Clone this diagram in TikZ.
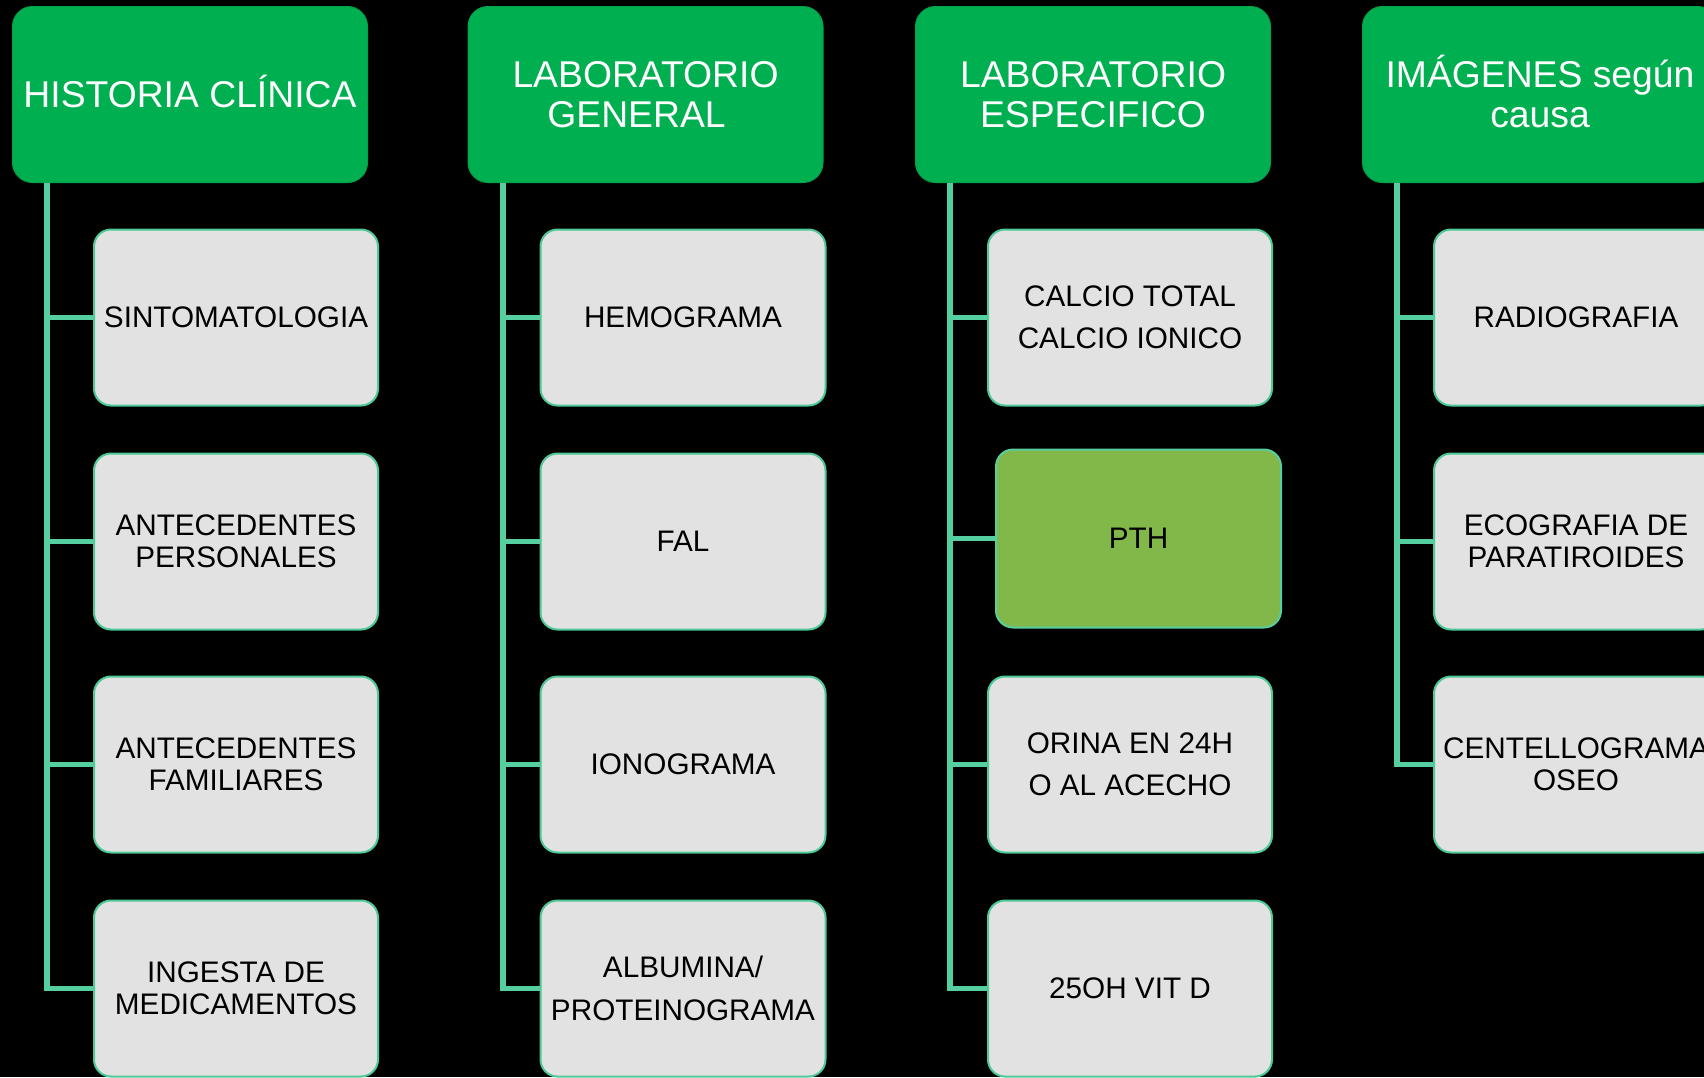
\documentclass[tikz,border=0pt]{standalone}
\usepackage{fontspec}
\setmainfont{Liberation Sans}
\usetikzlibrary{calc}

\definecolor{hdrgreen}{HTML}{00B050}
\definecolor{boxgray}{HTML}{E2E2E2}
\definecolor{mint}{HTML}{55CFA0}
\definecolor{boxedge}{HTML}{4CC996}
\definecolor{pthgreen}{HTML}{82B84A}

\tikzset{
  header/.style={rectangle, rounded corners=20pt, fill=hdrgreen, draw=hdrgreen!92!black,
    line width=1pt, minimum width=355pt, minimum height=176pt, anchor=north west,
    inner sep=0pt, align=center, text=white, font=\fontsize{37.3}{40}\selectfont},
  item/.style={rectangle, rounded corners=17pt, fill=boxgray, draw=boxedge,
    line width=2pt, minimum width=284pt, minimum height=176pt, anchor=north west,
    inner sep=0pt, align=center, text=black, font=\fontsize{29.7}{32.3}\selectfont},
  loose/.style={font=\fontsize{29.7}{42.5}\selectfont},
  conn/.style={draw=mint, line width=5.5pt},
}

\begin{document}
\begin{tikzpicture}[x=1pt, y=-1pt]
  \useasboundingbox (0,0) rectangle (1704,1077);
  \clip (0,0) rectangle (1704,1077);
  \fill[black] (0,0) rectangle (1704,1077);

  % column headers (accents are kept out of the vertical centring)
  \node[header] (h1) at (12,6)    {\smash{HISTORIA CLÍNICA}\vphantom{H}};
  \node[header] (h2) at (467.5,6) {LABORATORIO\\GENERAL\hspace*{18pt}};
  \node[header] (h3) at (915,6)   {LABORATORIO\\ESPECIFICO};
  \node[header] (h4) at (1362,6)  {\smash{IMÁGENES según}\vphantom{H}\\causa};

  % trunk start points below each header
  \coordinate (t1) at ($(h1.south west)+(35,0)$);
  \coordinate (t2) at ($(h2.south west)+(35.5,0)$);
  \coordinate (t3) at ($(h3.south west)+(35,0)$);
  \coordinate (t4) at ($(h4.south west)+(35,0)$);

  % column 1
  \node[item] (a1) at (93,228.5) {SINTOMATOLOGIA};
  \node[item] (a2) at (93,452.5) {ANTECEDENTES\\PERSONALES};
  \node[item] (a3) at (93,675.5) {ANTECEDENTES\\FAMILIARES};
  \node[item] (a4) at (93,899.5) {INGESTA DE\\MEDICAMENTOS};

  % column 2
  \node[item, minimum width=285pt] (b1) at (539.5,228.5) {HEMOGRAMA};
  \node[item, minimum width=285pt] (b2) at (539.5,452.5) {FAL};
  \node[item, minimum width=285pt] (b3) at (539.5,675.5) {IONOGRAMA};
  \node[item, minimum width=285pt, loose] (b4) at (539.5,899.5) {ALBUMINA/\\PROTEINOGRAMA};

  % column 3
  \node[item, loose] (c1) at (987,228.5) {CALCIO TOTAL\\CALCIO IONICO};
  \node[item, fill=pthgreen, draw=mint, minimum width=285pt, minimum height=178pt] (c2) at (995,448.5) {PTH};
  \node[item, loose] (c3) at (987,675.5) {ORINA EN 24H\\O AL ACECHO};
  \node[item] (c4) at (987,899.5) {25OH VIT D};

  % column 4
  \node[item] (d1) at (1433,228.5) {RADIOGRAFIA};
  \node[item] (d2) at (1433,452.5) {ECOGRAFIA DE\\PARATIROIDES};
  \node[item] (d3) at (1433,675.5) {CENTELLOGRAMA\\OSEO};

  % connectors
  \foreach \n in {a1,a2,a3,a4} \draw[conn] (t1) |- (\n.west);
  \foreach \n in {b1,b2,b3,b4} \draw[conn] (t2) |- (\n.west);
  \foreach \n in {c1,c2,c3,c4} \draw[conn] (t3) |- (\n.west);
  \foreach \n in {d1,d2,d3}    \draw[conn] (t4) |- (\n.west);
\end{tikzpicture}
\end{document}
